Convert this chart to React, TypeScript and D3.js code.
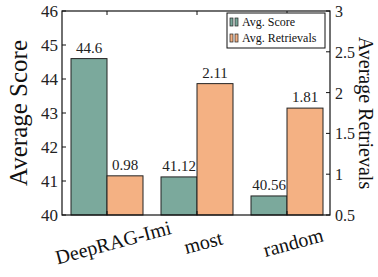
import * as d3 from "d3";

const categories = ["DeepRAG-Imi", "most", "random"];
const scoreValues = [44.6, 41.12, 40.56];
const retrievalValues = [0.98, 2.11, 1.81];
const scoreTicks = [40, 41, 42, 43, 44, 45, 46];
const retrievalTicks = [0.5, 1, 1.5, 2, 2.5, 3];
const seriesNames = ["Avg. Score", "Avg. Retrievals"];

const width = 378;
const height = 277;
const plot = { left: 62, right: 330, top: 11, bottom: 215 };
const scoreColor = "#7ba99c";
const retrievalColor = "#f4b183";
const font = "'Liberation Serif', 'DejaVu Serif', serif";

export default function App() {
  const xScale = d3
    .scalePoint<string>()
    .domain(categories)
    .range([107, 287]);
  const yLeft = d3.scaleLinear().domain([40, 46]).range([plot.bottom, plot.top]);
  const yRight = d3.scaleLinear().domain([0.5, 3]).range([plot.bottom, plot.top]);
  const barWidth = 36;

  return (
    <svg
      width={width}
      height={height}
      style={{ position: "absolute", left: 0, top: 0, background: "#fff", fontFamily: font }}
    >
      {/* bars */}
      {categories.map((cat, i) => {
        const cx = xScale(cat) ?? 0;
        const sTop = yLeft(scoreValues[i]);
        const rTop = yRight(retrievalValues[i]);
        return (
          <g key={cat}>
            <rect x={cx - barWidth} y={sTop} width={barWidth} height={plot.bottom - sTop} fill={scoreColor} stroke="#222" strokeWidth={1} />
            <rect x={cx} y={rTop} width={barWidth} height={plot.bottom - rTop} fill={retrievalColor} stroke="#222" strokeWidth={1} />
            <text x={cx - barWidth / 2} y={sTop - 6} textAnchor="middle" fontSize={15} fill="#222">{scoreValues[i]}</text>
            <text x={cx + barWidth / 2} y={rTop - 6} textAnchor="middle" fontSize={15} fill="#222">{retrievalValues[i]}</text>
          </g>
        );
      })}

      {/* frame */}
      <rect x={plot.left} y={plot.top} width={plot.right - plot.left} height={plot.bottom - plot.top} fill="none" stroke="#111" strokeWidth={1.2} />

      {/* left axis */}
      {scoreTicks.map((t) => (
        <g key={`l-${t}`}>
          <line x1={plot.left} x2={plot.left + 4} y1={yLeft(t)} y2={yLeft(t)} stroke="#111" />
          <text x={plot.left - 4} y={yLeft(t) + 6} textAnchor="end" fontSize={17} fill="#222">{t}</text>
        </g>
      ))}

      {/* right axis */}
      {retrievalTicks.map((t) => (
        <g key={`r-${t}`}>
          <line x1={plot.right - 4} x2={plot.right} y1={yRight(t)} y2={yRight(t)} stroke="#111" />
          <text x={plot.right + 5} y={yRight(t) + 6} textAnchor="start" fontSize={16} fill="#222">{t}</text>
        </g>
      ))}

      {/* x ticks and labels */}
      {categories.map((cat) => {
        const cx = xScale(cat) ?? 0;
        return (
          <g key={`x-${cat}`}>
            <line x1={cx} x2={cx} y1={plot.bottom} y2={plot.bottom - 4} stroke="#111" />
            <line x1={cx} x2={cx} y1={plot.top} y2={plot.top + 4} stroke="#111" />
            <text
              transform={`translate(${cx + 8}, 249) rotate(-15)`}
              textAnchor="middle"
              fontSize={20}
              fill="#111"
            >
              {cat}
            </text>
          </g>
        );
      })}

      {/* axis titles */}
      <text transform={`translate(27, ${(plot.top + plot.bottom) / 2}) rotate(-90)`} textAnchor="middle" fontSize={25} fill="#111">
        Average Score
      </text>
      <text transform={`translate(359, ${(plot.top + plot.bottom) / 2}) rotate(90)`} textAnchor="middle" fontSize={20} fill="#111">
        Average Retrievals
      </text>

      {/* legend */}
      <g>
        <rect x={227} y={13} width={98} height={35} fill="#fff" stroke="#111" strokeWidth={1} />
        {seriesNames.map((name, i) => {
          const y = 26 + i * 16;
          const color = i === 0 ? scoreColor : retrievalColor;
          return (
            <g key={name}>
              <rect x={230} y={y - 8} width={3} height={8} fill={color} stroke="#222" strokeWidth={0.7} />
              <rect x={235} y={y - 8} width={3} height={8} fill={color} stroke="#222" strokeWidth={0.7} />
              <text x={242} y={y} fontSize={12} fill="#111">{name}</text>
            </g>
          );
        })}
      </g>
    </svg>
  );
}
